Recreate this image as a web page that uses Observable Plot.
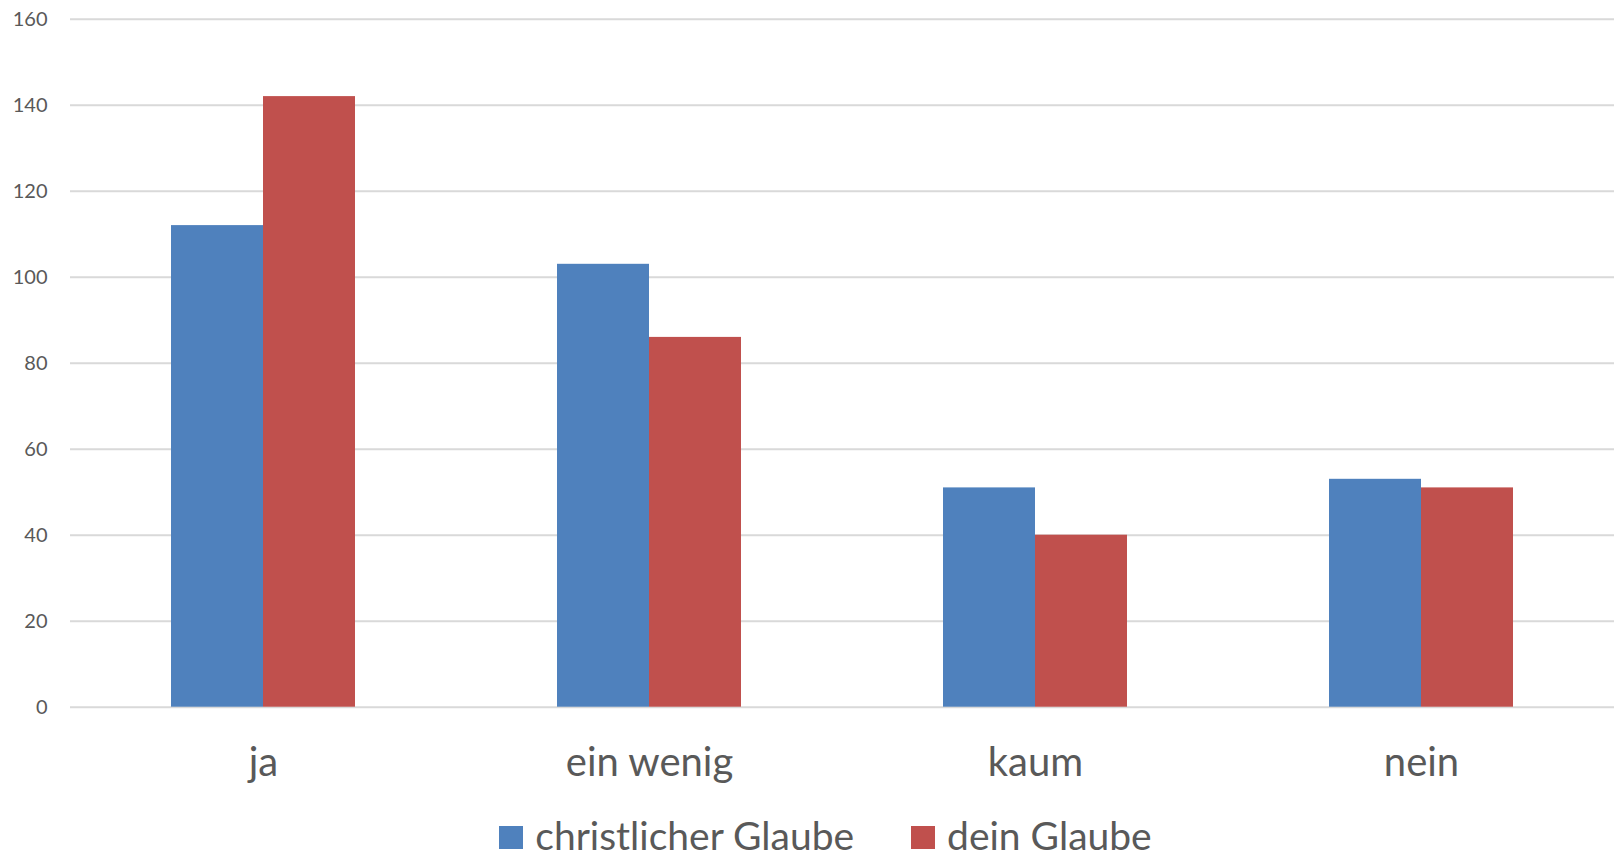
<!DOCTYPE html>
<html>
<head>
<meta charset="utf-8">
<script src="https://cdn.jsdelivr.net/npm/d3@7"></script>
<script src="https://cdn.jsdelivr.net/npm/@observablehq/plot@0.6"></script>
<style>
  html, body { margin: 0; padding: 0; background: #fff; }
  body { width: 1614px; height: 855px; overflow: hidden; font-family: Lato, "Open Sans", sans-serif; }
  #legend { display: flex; justify-content: center; align-items: flex-end; padding-left: 37px; margin-top: 26px; color: #595959; font-size: 39px; line-height: 1; }
  #legend .item { display: flex; align-items: flex-end; }
  #legend .item + .item { margin-left: 57px; }
  #legend .sw { width: 24px; height: 23px; margin-right: 12px; margin-bottom: 6px; }
</style>
</head>
<body>
<div id="chart"></div>
<div id="legend"></div>
<script>
const categories = ["ja", "ein wenig", "kaum", "nein"];
const seriesNames = ["christlicher Glaube", "dein Glaube"];
const christlicherGlaube = [112, 103, 51, 53];
const deinGlaube = [142, 86, 40, 51];
const seriesColors = ["#4F81BD", "#C0504D"];
const yTicks = [0, 20, 40, 60, 80, 100, 120, 140, 160];

const seriesValues = [christlicherGlaube, deinGlaube];
const data = [];
categories.forEach((c, i) => {
  seriesNames.forEach((s, j) => {
    data.push({category: c, series: s, value: seriesValues[j][i]});
  });
});

const chart = Plot.plot({
  width: 1614,
  height: 790,
  marginLeft: 69,
  marginRight: 0,
  marginTop: 18.7,
  marginBottom: 83.3,
  style: {fontFamily: "Lato, 'Open Sans', sans-serif", background: "#fff"},
  fx: {domain: categories, padding: 0, axis: null},
  x: {domain: seriesNames, paddingInner: 0, paddingOuter: 1.088, axis: null},
  y: {domain: [0, 160], axis: null},
  color: {domain: seriesNames, range: seriesColors},
  marks: [
    Plot.gridY(yTicks, {stroke: "#d9d9d9", strokeOpacity: 1, strokeWidth: 2}),
    Plot.barY(data, {fx: "category", x: "series", y: "value", fill: "series"}),
    Plot.axisY(yTicks, {tickSize: 0, tickPadding: 23, fontSize: 20, fill: "#595959", label: null}),
    Plot.axisFx({anchor: "bottom", tickSize: 0, tickPadding: 40, fontSize: 40, fill: "#595959", label: null})
  ]
});
document.getElementById("chart").appendChild(chart);

const legend = document.getElementById("legend");
seriesNames.forEach((s, i) => {
  const item = document.createElement("div");
  item.className = "item";
  const sw = document.createElement("div");
  sw.className = "sw";
  sw.style.background = seriesColors[i];
  const t = document.createElement("span");
  t.textContent = s;
  item.appendChild(sw);
  item.appendChild(t);
  legend.appendChild(item);
});
</script>
</body>
</html>
